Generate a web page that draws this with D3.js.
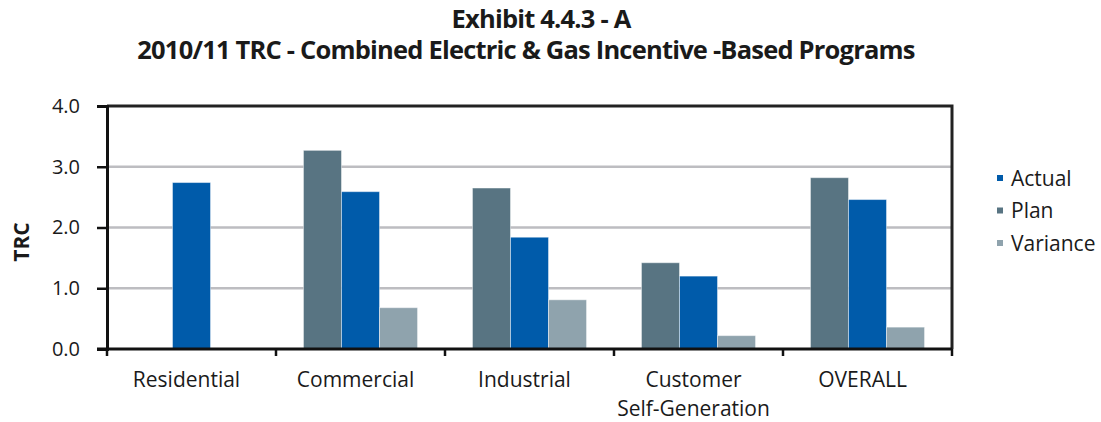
<!DOCTYPE html>
<html>
<head>
<meta charset="utf-8">
<script src="https://cdn.jsdelivr.net/npm/d3@7"></script>
<style>
  html, body { margin: 0; padding: 0; background: #ffffff; }
  svg { display: block; }
  text { font-family: "Open Sans", "Noto Sans", sans-serif; fill: #1a1a1a; }
</style>
</head>
<body>
<svg id="chart" width="1101" height="422"></svg>
<script>
// Program categories along the x axis (fourth entry wraps onto two lines)
const categories = ["Residential", "Commercial", "Industrial", "Customer\nSelf-Generation", "OVERALL"];
// TRC ratios per program; null where a series has no bar
const plan     = [null, 3.27, 2.65, 1.42, 2.82];
const actual   = [2.74, 2.59, 1.84, 1.20, 2.46];
const variance = [null, 0.68, 0.81, 0.22, 0.36];
const yTicks = [0, 1, 2, 3, 4];
const seriesNames = ["Plan", "Actual", "Variance"];
const legendOrder = ["Actual", "Plan", "Variance"];
const colors = { Actual: "#005baa", Plan: "#587482", Variance: "#8fa3ad" };
const title1 = "Exhibit 4.4.3 - A";
const title2 = "2010/11 TRC -  Combined Electric & Gas Incentive -Based Programs";
const yTitle = "TRC";

const seriesValues = { Plan: plan, Actual: actual, Variance: variance };

const svg = d3.select("#chart");
const plot = { left: 107, right: 952, top: 106, bottom: 349 };

const x = d3.scaleBand().domain(categories).range([plot.left, plot.right]).padding(0);
const groupWidth = x.bandwidth() * 0.675;
const xs = d3.scaleBand().domain(seriesNames).range([0, groupWidth]).padding(0);
const y = d3.scaleLinear().domain([0, 4]).range([plot.bottom, plot.top]);

// Titles
svg.append("text")
  .attr("x", 541).attr("y", 28)
  .attr("text-anchor", "middle")
  .style("font-weight", "bold").style("font-size", "25.5px")
  .style("letter-spacing", "-0.8px")
  .text(title1);
svg.append("text")
  .attr("x", 526).attr("y", 59)
  .attr("text-anchor", "middle")
  .style("font-weight", "bold").style("font-size", "25.5px")
  .style("letter-spacing", "-0.8px")
  .text(title2);

// Horizontal gridlines
svg.append("g")
  .selectAll("line")
  .data(yTicks.filter(t => t > 0 && t < 4))
  .join("line")
  .attr("x1", plot.left).attr("x2", plot.right)
  .attr("y1", d => y(d)).attr("y2", d => y(d))
  .attr("stroke", "#bdbdc1").attr("stroke-width", 2.5);

// Bars
const groups = svg.append("g")
  .selectAll("g")
  .data(categories.map((c, i) => ({ c, i })))
  .join("g")
  .attr("transform", d => `translate(${x(d.c) + (x.bandwidth() - groupWidth) / 2},0)`);

groups.selectAll("rect")
  .data(d => seriesNames
    .map(s => ({ s, v: seriesValues[s][d.i] }))
    .filter(e => e.v !== null))
  .join("rect")
  .attr("x", e => xs(e.s))
  .attr("width", xs.bandwidth())
  .attr("y", e => y(e.v))
  .attr("height", e => y(0) - y(e.v))
  .attr("fill", e => colors[e.s])
  .attr("stroke", "rgba(255,255,255,0.45)")
  .attr("stroke-width", 1);

// Frame: top and right borders
svg.append("path")
  .attr("d", `M${plot.left},${plot.top}H${plot.right}V${plot.bottom}`)
  .attr("fill", "none").attr("stroke", "#222").attr("stroke-width", 3);

// Y axis
const yAxis = d3.axisLeft(y).tickValues(yTicks).tickFormat(d3.format(".1f")).tickSize(10).tickPadding(17);
const gy = svg.append("g").attr("transform", `translate(${plot.left},0)`).call(yAxis);
gy.select(".domain").attr("stroke", "#111").attr("stroke-width", 3);
gy.selectAll(".tick line").attr("stroke", "#111").attr("stroke-width", 2.5);
gy.selectAll(".tick text").style("font-size", "20px").attr("fill", "#1a1a1a").style("font-family", "'Open Sans', sans-serif");

// X axis with tick marks on band edges
svg.append("line")
  .attr("x1", plot.left - 10).attr("x2", plot.right)
  .attr("y1", plot.bottom).attr("y2", plot.bottom)
  .attr("stroke", "#111").attr("stroke-width", 3);
svg.append("g")
  .selectAll("line")
  .data(categories.concat([null]))
  .join("line")
  .attr("x1", (d, i) => plot.left + i * x.step())
  .attr("x2", (d, i) => plot.left + i * x.step())
  .attr("y1", plot.bottom).attr("y2", plot.bottom + 7)
  .attr("stroke", "#111").attr("stroke-width", 2.5);

// Category labels
const xl = svg.append("g")
  .selectAll("text")
  .data(categories)
  .join("text")
  .attr("x", d => x(d) + x.bandwidth() / 2 - 5)
  .attr("y", 387)
  .attr("text-anchor", "middle")
  .style("font-size", "21px");
xl.selectAll("tspan")
  .data(d => d.split("\n"))
  .join("tspan")
  .attr("x", function () { return d3.select(this.parentNode).attr("x"); })
  .attr("dy", (d, i) => i === 0 ? 0 : 29)
  .text(d => d);

// Y axis title
svg.append("text")
  .attr("transform", "translate(29,242) rotate(-90)")
  .attr("text-anchor", "middle")
  .style("font-weight", "bold").style("font-size", "21px")
  .text(yTitle);

// Legend
const legend = svg.append("g")
  .selectAll("g")
  .data(legendOrder)
  .join("g")
  .attr("transform", (d, i) => `translate(997,${178 + i * 32.5})`);
legend.append("rect")
  .attr("x", 0).attr("y", -3).attr("width", 6).attr("height", 6)
  .attr("fill", d => colors[d]);
legend.append("text")
  .attr("x", 14).attr("y", 7.5)
  .style("font-size", "21px")
  .text(d => d);
</script>
</body>
</html>
